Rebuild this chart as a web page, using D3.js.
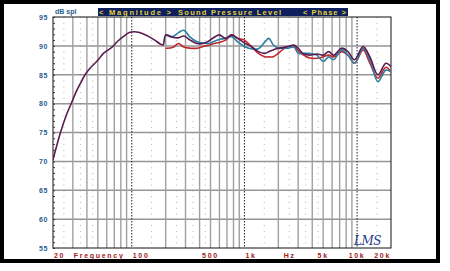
<!DOCTYPE html>
<html>
<head>
<meta charset="utf-8">
<script src="https://cdn.jsdelivr.net/npm/d3@7"></script>
<style>
  html, body { margin: 0; padding: 0; background: #fff; }
  svg { display: block; }
</style>
</head>
<body>
<div id="chart"></div>
<script>
// Low end: single measurement, shared by all three traces
const lowFreq = [20, 23.3, 26.5, 29.3, 32, 35, 38.5, 43, 50, 56, 62, 68, 75, 84, 95, 105, 115, 136, 160, 180, 190];
const lowDb   = [70.3, 75.0, 78.2, 80.2, 82.0, 83.5, 85.0, 86.2, 87.5, 88.7, 89.3, 89.9, 90.8, 91.6, 92.3, 92.45, 92.35, 91.8, 91.0, 90.3, 90.2];

// From 200 Hz up the three traces split
const highFreq = [200, 230, 260, 290, 330, 380, 430, 480, 540, 600, 680, 770, 870, 1000, 1150, 1330, 1520, 1650, 1800, 2000,
                  2200, 2450, 2750, 3000, 3300, 3800, 4400, 5000, 5600, 6200, 7300, 8300, 9500, 11300, 13000, 15300, 18000, 20000];
const purpleDb = [91.9, 91.5, 91.4, 91.7, 91.0, 90.4, 90.4, 90.8, 91.5, 91.9, 91.3, 91.9, 91.3, 90.5, 89.9, 89.0, 88.7, 89.0, 89.3, 89.6,
                  89.7, 89.9, 90.15, 89.6, 88.7, 88.4, 88.6, 88.4, 89.0, 88.4, 89.6, 89.0, 87.6, 89.9, 88.1, 85.0, 87.0, 86.4];
const blueDb   = [91.9, 91.6, 92.3, 92.7, 91.5, 90.7, 90.5, 90.4, 90.8, 91.1, 91.3, 91.6, 90.7, 89.9, 89.5, 89.5, 90.7, 91.3, 90.2, 89.6,
                  89.6, 89.6, 89.8, 88.7, 88.7, 88.7, 88.4, 87.3, 88.1, 87.6, 89.3, 88.4, 87.0, 89.6, 87.6, 83.8, 85.8, 85.5];
const redDb    = [89.6, 89.7, 90.4, 89.8, 89.6, 89.6, 89.9, 90.1, 90.4, 90.6, 91.0, 91.9, 91.3, 91.0, 89.9, 88.7, 88.1, 88.1, 88.1, 88.7,
                  89.4, 89.9, 89.9, 89.2, 88.5, 87.9, 87.85, 88.1, 88.4, 88.1, 89.0, 88.4, 87.0, 89.3, 87.0, 84.4, 86.3, 85.5];

// Axes
const yTicks = [55, 60, 65, 70, 75, 80, 85, 90, 95];
const gridFreq = [30, 40, 50, 60, 70, 80, 90, 200, 300, 400, 500, 600, 700, 800, 900,
                  2000, 3000, 4000, 5000, 6000, 7000, 8000, 9000];
const decadeFreq = [100, 1000, 10000];
const minorFreq = [25, 35, 45, 150, 250, 350, 450, 1500, 2500, 3500, 4500, 15000];
const xLabels = ["20", "Frequency", "100", "500", "1k", "Hz", "5k", "10k", "20k"];
const xLabelFreq = [20, 30, 100, 500, 1000, 2530, 5000, 10000, 20000];
const xLabelAnchor = ["start", "start", "start", "middle", "start", "middle", "middle", "middle", "end"];
const titleParts = ["< Magnitude >", "Sound Pressure Level", "< Phase >"];

const width = 450, height = 271;

const svg = d3.select('#chart').append('svg')
    .attr('width', width)
    .attr('height', height);

// outer frame
svg.append('rect')
    .attr('x', 2).attr('y', 2)
    .attr('width', 436).attr('height', 259)
    .attr('fill', '#fff')
    .attr('stroke', '#000')
    .attr('stroke-width', 4);

var x = d3.scaleLog().domain([20, 20000]).range([53, 391]);
var y = d3.scaleLinear().domain([55, 95]).range([248, 17]);

const grid = svg.append('g');

// minor dotted verticals
grid.selectAll('.minor')
    .data(minorFreq)
    .enter().append('line')
        .attr('x1', d => x(d)).attr('x2', d => x(d))
        .attr('y1', y(95)).attr('y2', y(55))
        .attr('stroke', '#b0b0b0')
        .attr('stroke-width', 1)
        .attr('stroke-dasharray', '1,4.78');

// horizontal grid
grid.selectAll('.hgrid')
    .data(yTicks.slice(1, -1))
    .enter().append('line')
        .attr('x1', x(20)).attr('x2', x(20000))
        .attr('y1', d => y(d)).attr('y2', d => y(d))
        .attr('stroke', '#969696')
        .attr('stroke-width', 1.5);

// vertical grid
grid.selectAll('.vgrid')
    .data(gridFreq)
    .enter().append('line')
        .attr('x1', d => x(d)).attr('x2', d => x(d))
        .attr('y1', y(95)).attr('y2', y(55))
        .attr('stroke', '#a0a0a0')
        .attr('stroke-width', 1.4);

// decade lines, darker dashed
grid.selectAll('.decade')
    .data(decadeFreq)
    .enter().append('line')
        .attr('x1', d => x(d)).attr('x2', d => x(d))
        .attr('y1', y(95)).attr('y2', y(55))
        .attr('stroke', '#222')
        .attr('stroke-width', 1)
        .attr('stroke-dasharray', '1.5,1.5');

// plot border
svg.append('rect')
    .attr('x', x(20)).attr('y', y(95))
    .attr('width', x(20000) - x(20))
    .attr('height', y(55) - y(95))
    .attr('fill', 'none')
    .attr('stroke', '#111')
    .attr('stroke-width', 1);

// small dB ticks on the left edge
svg.append('g')
    .attr('transform', 'translate(' + x(20) + ',0)')
    .call(d3.axisRight(y).ticks(40).tickSize(2).tickFormat(''))
    .call(g => g.select('.domain').remove())
    .selectAll('line').attr('stroke', '#333');

// y tick labels
svg.append('g')
    .attr('transform', 'translate(' + x(20) + ',0)')
    .call(d3.axisLeft(y).tickValues(yTicks).tickSize(0).tickPadding(5))
    .call(g => g.select('.domain').remove())
    .selectAll('text')
        .attr('fill', '#2b5b8e')
        .style('font', 'bold 7px "Liberation Sans", Arial, sans-serif')
        .style('letter-spacing', '0.6px');

svg.append('text')
    .attr('x', 55).attr('y', 14)
    .attr('fill', '#2b5b8e')
    .style('font', 'bold 7px "Liberation Sans", Arial, sans-serif')
    .text('dB spl');

// title bar
svg.append('rect')
    .attr('x', 98).attr('y', 8)
    .attr('width', 250).attr('height', 8)
    .attr('fill', '#0d1f5c');

const titleX = [99, 178, 303];
const titleLen = [72, 103, 43];
svg.append('g')
    .selectAll('text')
    .data(titleParts)
    .enter().append('text')
        .attr('x', (d, i) => titleX[i]).attr('y', 14.8)
        .attr('textLength', (d, i) => titleLen[i])
        .attr('lengthAdjust', 'spacing')
        .attr('fill', '#e3cf3a')
        .style('font', 'bold 7.5px "Liberation Sans", Arial, sans-serif')
        .text(d => d);

// x labels
svg.append('g')
    .selectAll('text')
    .data(xLabels)
    .enter().append('text')
        .attr('x', (d, i) => x(xLabelFreq[i]) + (xLabelAnchor[i] === 'start' ? 1 : 0))
        .attr('y', 258)
        .attr('text-anchor', (d, i) => xLabelAnchor[i])
        .attr('fill', '#a3161a')
        .style('font', 'bold 7px "Liberation Sans", Arial, sans-serif')
        .style('letter-spacing', '1.7px')
        .text(d => d);

// curves
svg.append('clipPath').attr('id', 'plotclip')
    .append('rect')
        .attr('x', x(20)).attr('y', y(95))
        .attr('width', x(20000) - x(20))
        .attr('height', y(55) - y(95));

var line = d3.line()
    .x(d => x(d[0]))
    .y(d => y(d[1]))
    .curve(d3.curveCatmullRom.alpha(0.5));

const zipPts = (f, v) => f.map((d, i) => [d, v[i]]);

const traces = [
    {pts: zipPts(highFreq, redDb), color: '#c0262a'},
    {pts: zipPts(highFreq, blueDb), color: '#2a7fa3'},
    {pts: zipPts(lowFreq, lowDb).concat(zipPts(highFreq, purpleDb)), color: '#5a1b4f'}
];

svg.append('g')
    .attr('clip-path', 'url(#plotclip)')
    .selectAll('path')
    .data(traces)
    .enter().append('path')
        .attr('d', d => line(d.pts))
        .attr('fill', 'none')
        .attr('stroke', d => d.color)
        .attr('stroke-width', 1.6);

// signature
svg.append('text')
    .attr('x', 354).attr('y', 245)
    .attr('fill', '#1f3b8c')
    .style('font', 'italic 12px "DejaVu Serif", serif')
    .style('letter-spacing', '-0.5px')
    .text('LMS');
</script>
</body>
</html>
